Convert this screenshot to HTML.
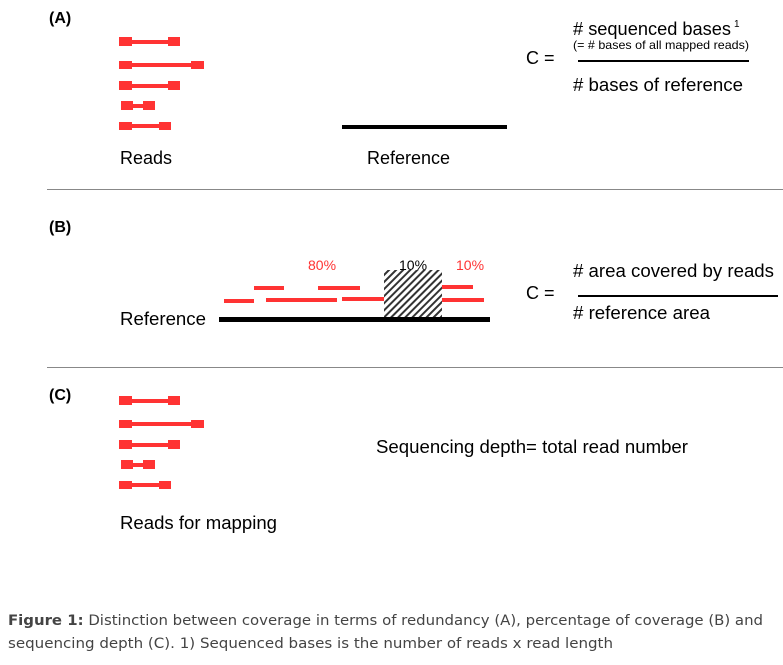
<!DOCTYPE html>
<html><head><meta charset="utf-8"><style>
html,body{margin:0;padding:0;background:#fff;}
svg{display:block;font-family:"Liberation Sans",Arial,sans-serif;}
</style></head><body>
<svg width="783" height="665" viewBox="0 0 783 665" xmlns="http://www.w3.org/2000/svg">
<defs>
<pattern id="h" width="5" height="5" patternUnits="userSpaceOnUse" patternTransform="rotate(45)">
<rect width="5" height="5" fill="#fff"/><rect width="2" height="5" fill="#333"/>
</pattern>
<g id="reads" fill="#f33">
<rect x="119" y="37" width="13" height="9"/><rect x="132" y="40" width="36" height="4"/><rect x="168" y="37" width="12" height="9"/>
<rect x="119" y="61" width="13" height="8"/><rect x="132" y="63" width="59" height="4"/><rect x="191" y="61" width="13" height="8"/>
<rect x="119" y="81" width="13" height="9"/><rect x="132" y="84" width="36" height="4"/><rect x="168" y="81" width="12" height="9"/>
<rect x="121" y="101" width="12" height="9"/><rect x="133" y="104" width="10" height="4"/><rect x="143" y="101" width="12" height="9"/>
<rect x="119" y="122" width="13" height="8"/><rect x="132" y="124" width="27" height="4"/><rect x="159" y="122" width="12" height="8"/>
</g>
</defs>
<g font-weight="bold" font-size="16" fill="#000">
<text x="49" y="23">(A)</text><text x="49" y="232">(B)</text><text x="49" y="400">(C)</text>
</g>
<use href="#reads"/>
<text x="120" y="164" font-size="18">Reads</text>
<rect x="342" y="125" width="165" height="4" fill="#000"/>
<text x="367" y="164" font-size="18">Reference</text>
<text x="526" y="64" font-size="18">C =</text>
<text x="573" y="35" font-size="18" textLength="158" lengthAdjust="spacingAndGlyphs"># sequenced bases</text><text x="734" y="27" font-size="10">1</text>
<text x="573" y="49" font-size="12" textLength="176" lengthAdjust="spacingAndGlyphs">(= # bases of all mapped reads)</text>
<rect x="578" y="60" width="171" height="2" fill="#000"/>
<text x="573" y="91" font-size="18" textLength="170" lengthAdjust="spacingAndGlyphs"># bases of reference</text>
<rect x="47" y="189" width="736" height="1" fill="#888"/>
<rect x="47" y="367" width="736" height="1" fill="#888"/>
<text x="120" y="325" font-size="18" textLength="86" lengthAdjust="spacingAndGlyphs">Reference</text>
<rect x="384" y="270" width="58" height="50" fill="url(#h)"/>
<rect x="219" y="317" width="271" height="5" fill="#000"/>
<g fill="#f33">
<rect x="224" y="299" width="30" height="4"/><rect x="254" y="286" width="30" height="4"/>
<rect x="266" y="298" width="71" height="4"/><rect x="318" y="286" width="42" height="4"/>
<rect x="342" y="297" width="42" height="4"/><rect x="442" y="285" width="31" height="4"/>
<rect x="442" y="298" width="42" height="4"/>
</g>
<text x="308" y="270" font-size="14" fill="#f33">80%</text>
<text x="399" y="270" font-size="14" fill="#000">10%</text>
<text x="456" y="270" font-size="14" fill="#f33">10%</text>
<text x="526" y="299" font-size="18">C =</text>
<text x="573" y="277" font-size="18" textLength="201" lengthAdjust="spacingAndGlyphs"># area covered by reads</text>
<rect x="578" y="295" width="200" height="2" fill="#000"/>
<text x="573" y="319" font-size="18" textLength="137" lengthAdjust="spacingAndGlyphs"># reference area</text>
<use href="#reads" y="359"/>
<text x="120" y="529" font-size="18" textLength="157" lengthAdjust="spacingAndGlyphs">Reads for mapping</text>
<text x="376" y="453" font-size="18" textLength="312" lengthAdjust="spacingAndGlyphs">Sequencing depth= total read number</text>
<g font-family="'DejaVu Sans',sans-serif" fill="#444" font-size="14">
<text x="8" y="625" textLength="755" lengthAdjust="spacingAndGlyphs"><tspan font-weight="bold">Figure 1:</tspan> Distinction between coverage in terms of redundancy (A), percentage of coverage (B) and</text>
<text x="8" y="648" textLength="605" lengthAdjust="spacingAndGlyphs">sequencing depth (C). 1) Sequenced bases is the number of reads x read length</text>
</g>
</svg>
</body></html>
